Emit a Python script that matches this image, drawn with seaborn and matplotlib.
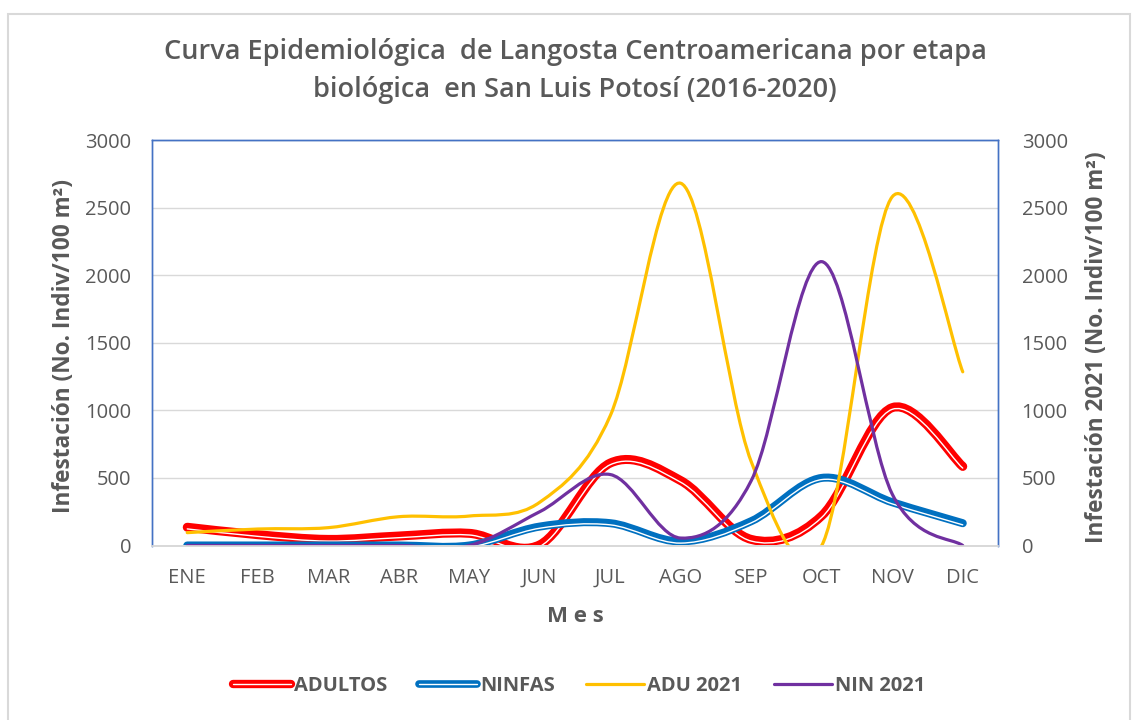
import numpy as np
import matplotlib
matplotlib.use("Agg")
import matplotlib.pyplot as plt
import seaborn as sns
from matplotlib.path import Path
from matplotlib.patches import PathPatch, Rectangle
from matplotlib.lines import Line2D
from matplotlib.legend_handler import HandlerTuple
from matplotlib import font_manager
import matplotlib.transforms as mtransforms

# datos (individuos / 100 m2)
meses = ['ENE', 'FEB', 'MAR', 'ABR', 'MAY', 'JUN', 'JUL', 'AGO', 'SEP', 'OCT', 'NOV', 'DIC']
adultos = [135, 80, 45, 70, 90, 5, 610, 480, 45, 220, 1020, 585]
ninfas = [0, 0, 0, 0, 0, 140, 165, 30, 180, 500, 320, 165]
adu_2021 = [95, 122, 132, 213, 218, 320, 960, 2680, 620, 0, 2580, 1285]
nin_2021 = [0, 0, 0, 0, 0, 250, 525, 55, 480, 2100, 380, 0]
ticks_y = [0, 500, 1000, 1500, 2000, 2500, 3000]

gris = '#595959'
rojo = '#FF0000'
azul = '#0070C0'
amarillo = '#FFC000'
morado = '#7030A0'


def elegir_fuente(opciones):
    for f in opciones:
        try:
            font_manager.findfont(f, fallback_to_default=False)
            return f
        except ValueError:
            pass
    return 'DejaVu Sans'


fuente = elegir_fuente(['Open Sans', 'Lato', 'Liberation Sans'])

sns.set_theme(style='white')
plt.rcParams['font.family'] = [fuente, 'DejaVu Sans']


def curva_suave(y):
    # suavizado tipo Excel: bezier con puntos de control de Catmull-Rom
    pts = np.column_stack([np.arange(len(y), dtype=float), np.asarray(y, float)])
    ext = np.vstack([pts[0], pts, pts[-1]])
    verts = [pts[0]]
    codes = [Path.MOVETO]
    for i in range(len(pts) - 1):
        p0, p1, p2, p3 = ext[i], ext[i + 1], ext[i + 2], ext[i + 3]
        verts += [p1 + (p2 - p0) / 6, p2 - (p3 - p1) / 6, p2]
        codes += [Path.CURVE4] * 3
    return Path(verts, codes)


def trazar(ax, y, color, lw, doble=False):
    ax.add_patch(PathPatch(curva_suave(y), facecolor='none', edgecolor=color, lw=lw,
                           capstyle='round', joinstyle='round'))
    if doble:
        desplazado = mtransforms.offset_copy(ax.transData, fig=ax.figure, x=0, y=-1.2, units='points')
        ax.add_patch(PathPatch(curva_suave(y), facecolor='none', edgecolor='white', lw=1.0,
                               capstyle='round', joinstyle='round', transform=desplazado))


fig = plt.figure(figsize=(11.39, 7.2), dpi=100)
fig.patch.set_facecolor('white')
fig.patches.append(Rectangle((8 / 1139, -0.02), 1122 / 1139, 1.0, transform=fig.transFigure,
                             facecolor='white', edgecolor='#D9D9D9', lw=1.5, zorder=-10))

ax = fig.add_axes([152 / 1139, 1 - 545.5 / 720, 846 / 1139, 405.5 / 720])
ax2 = ax.twinx()

ax.set_xlim(-0.5, len(meses) - 0.5)
ax.set_ylim(0, 3000)
ax2.set_ylim(0, 3000)

trazar(ax, adultos, rojo, 6.5, doble=True)
trazar(ax, ninfas, azul, 5.8, doble=True)
trazar(ax2, adu_2021, amarillo, 2.3)
trazar(ax2, nin_2021, morado, 2.3)

ax.set_yticks(ticks_y)
ax2.set_yticks(ticks_y)
ax.set_xticks(range(len(meses)))
ax.set_xticklabels(meses)
ax.grid(axis='y', color='#D9D9D9', lw=1.0)
ax.grid(axis='x', visible=False)
ax2.grid(False)

for a in (ax, ax2):
    a.tick_params(length=0, labelsize=14.5, labelcolor=gris)
    for lado in ('left', 'right', 'top'):
        a.spines[lado].set_color('#4472C4')
        a.spines[lado].set_linewidth(1.0)
    a.spines['bottom'].set_color('#D9D9D9')
ax.tick_params(axis='x', pad=16)
ax.tick_params(axis='y', pad=15)
ax2.tick_params(axis='y', pad=17)

ax.set_ylabel('Infestación (No. Indiv/100 m²)', fontsize=16.3, fontweight='bold', color=gris)
ax2.set_ylabel('Infestación 2021 (No. Indiv/100 m²)', fontsize=16.3, fontweight='bold', color=gris)
ax.set_xlabel('M e s', fontsize=16, fontweight='bold', color=gris)
ax.yaxis.label.set_verticalalignment('center')
ax2.yaxis.label.set_verticalalignment('center')
ax.xaxis.label.set_verticalalignment('center')
ax.yaxis.set_label_coords((64 - 152) / 846, (545.5 - 346) / 405.5)
ax2.yaxis.set_label_coords((1097 - 152) / 846, (545.5 - 347) / 405.5)
ax.xaxis.set_label_coords(0.5, (545.5 - 616) / 405.5)

fig.text(0.505, 1 - 52 / 720, 'Curva Epidemiológica  de Langosta Centroamericana por etapa',
         ha='center', va='center', fontsize=19.5, fontweight='semibold', color=gris)
fig.text(0.505, 1 - 90 / 720, 'biológica  en San Luis Potosí (2016-2020)',
         ha='center', va='center', fontsize=19.5, fontweight='semibold', color=gris)

h_adultos = (Line2D([], [], color=rojo, lw=6.0, solid_capstyle='round'),
             Line2D([], [], color='white', lw=1.0))
h_ninfas = (Line2D([], [], color=azul, lw=5.5, solid_capstyle='round'),
            Line2D([], [], color='white', lw=1.0))
h_adu = Line2D([], [], color=amarillo, lw=2.3)
h_nin = Line2D([], [], color=morado, lw=2.3)
leg = fig.legend([h_adultos, h_ninfas, h_adu, h_nin], ['ADULTOS', 'NINFAS', 'ADU 2021', 'NIN 2021'],
                 loc='center', bbox_to_anchor=(579 / 1139, 1 - 686 / 720), ncol=4, frameon=False,
                 handler_map={tuple: HandlerTuple(ndivide=1)},
                 prop={'size': 14.5, 'weight': 'bold'}, handlelength=2.9, handletextpad=0.15,
                 columnspacing=1.55)
for t in leg.get_texts():
    t.set_color(gris)

fig.savefig('out.png', dpi=100)
